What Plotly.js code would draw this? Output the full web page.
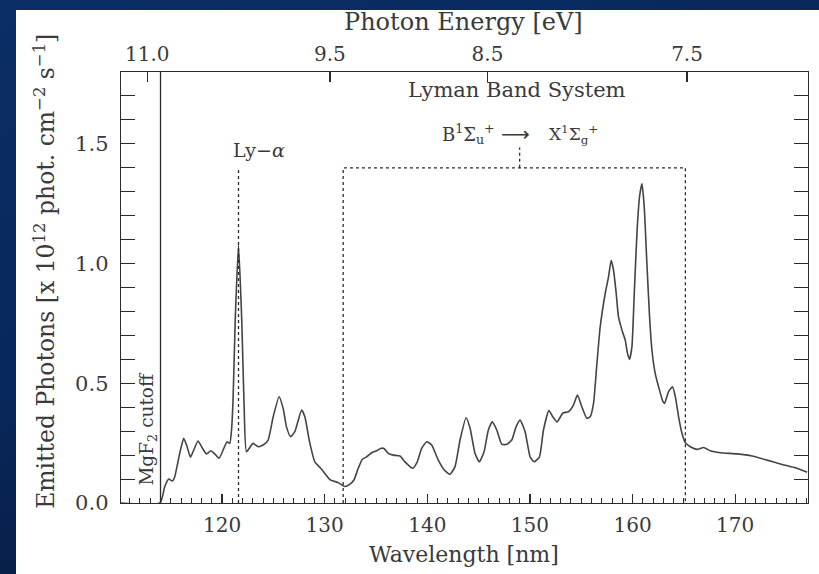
<!DOCTYPE html>
<html>
<head>
<meta charset="utf-8">
<script src="https://cdn.plot.ly/plotly-3.0.1.min.js"></script>
<style>
  html, body { margin: 0; padding: 0; }
  body {
    width: 819px; height: 574px; overflow: hidden; position: relative;
    background: linear-gradient(160deg, #0b2e66 0%, #08275a 45%, #041530 100%);
  }
  #panel { position: absolute; left: 16px; top: 10px; right: 0; bottom: 0; background: #ffffff; }
  #chart { position: absolute; left: 0; top: 0; width: 819px; height: 574px; }
</style>
</head>
<body>
<div id="panel"></div>
<div id="chart"></div>
<script>
// H2 emission spectrum behind a MgF2 window (wavelength in nm, photons in 1e12 phot cm^-2 s^-1)
const wavelength = [
  110.15, 113.95, 114.41, 114.80, 115.16, 115.39, 115.87, 116.26, 116.59, 116.92,
  117.17, 117.66, 118.09, 118.48, 118.90, 119.29, 119.71, 120.17, 120.49, 120.75,
  120.92, 121.07, 121.28, 121.60, 121.92, 122.15, 122.38, 123.02, 123.51, 124.00,
  124.49, 124.98, 125.56, 125.95, 126.28, 126.67, 127.09, 127.75, 128.07, 128.49,
  129.04, 129.70, 130.51, 131.32, 131.97, 132.46, 132.85, 133.27, 133.66, 134.09,
  134.58, 135.06, 135.45, 135.78, 136.20, 136.68, 137.34, 137.82, 138.58, 139.02,
  139.45, 139.94, 140.43, 141.07, 141.66, 142.21, 142.70, 143.19, 143.78, 144.17,
  144.65, 145.07, 145.53, 145.95, 146.34, 146.77, 147.26, 147.75, 148.23, 148.65,
  149.04, 149.53, 150.02, 150.41, 150.93, 151.32, 151.85, 152.23, 152.65, 153.22,
  153.76, 154.24, 154.63, 155.06, 155.55, 155.87, 156.20, 156.53, 156.85, 157.34,
  157.66, 157.92, 158.15, 158.41, 158.63, 158.97, 159.29, 159.51, 159.71, 159.94,
  160.17, 160.43, 160.68, 160.92, 161.14, 161.40, 161.66, 161.89, 162.21, 162.54,
  162.97, 163.12, 163.51, 163.90, 164.17, 164.49, 164.82, 165.14, 165.63, 166.28,
  166.93, 167.58, 168.56, 170.19, 171.65, 173.11, 174.41, 175.71, 177.02
];
const photons = [
  0.000, 0.000, 0.068, 0.100, 0.092, 0.110, 0.207, 0.270, 0.235, 0.191,
  0.214, 0.259, 0.228, 0.205, 0.218, 0.205, 0.187, 0.228, 0.256, 0.249,
  0.305, 0.430, 0.760, 1.077, 0.760, 0.400, 0.214, 0.249, 0.235, 0.242,
  0.263, 0.360, 0.444, 0.395, 0.318, 0.277, 0.298, 0.388, 0.360, 0.263,
  0.172, 0.141, 0.098, 0.085, 0.069, 0.079, 0.096, 0.145, 0.182, 0.193,
  0.210, 0.218, 0.228, 0.228, 0.207, 0.200, 0.196, 0.172, 0.145, 0.172,
  0.228, 0.256, 0.242, 0.179, 0.138, 0.120, 0.152, 0.263, 0.356, 0.312,
  0.207, 0.172, 0.214, 0.305, 0.339, 0.305, 0.245, 0.245, 0.263, 0.318,
  0.346, 0.298, 0.193, 0.172, 0.193, 0.305, 0.386, 0.360, 0.339, 0.376,
  0.381, 0.409, 0.451, 0.402, 0.354, 0.360, 0.416, 0.583, 0.736, 0.875,
  0.944, 1.014, 0.972, 0.875, 0.778, 0.722, 0.680, 0.625, 0.600, 0.652,
  0.875, 1.126, 1.278, 1.334, 1.237, 1.000, 0.778, 0.639, 0.541, 0.485,
  0.423, 0.416, 0.465, 0.485, 0.444, 0.360, 0.291, 0.252, 0.235, 0.224,
  0.232, 0.218, 0.210, 0.205, 0.196, 0.179, 0.163, 0.149, 0.128
];

// secondary (top) axis: photon energy in eV
const energyTicks = [11.0, 9.5, 8.5, 7.5];
const energyLabels = ['11.0', '9.5', '8.5', '7.5'];
const HC_EV_NM = 1239.84;

// marked features
const cutoffNm = 114.0;          // MgF2 window transmission edge
const lyAlphaNm = 121.6;         // Lyman-alpha line
const lyAlphaTop = 1.393;
const lymanBand = [131.8, 165.15];
const lymanBoxTop = 1.40;
const lymanBracketX = 149.0;
const lymanBracketTop = 1.485;

const xRange = [110.15, 177.1];
const yRange = [0, 1.8];

const FONT = 'DejaVu Serif, Liberation Serif, serif';
const INK = '#2a2a2a';
const TXT = '#3a3a3a';

const dashLine = { color: INK, width: 1.3, dash: '3px,3px' };

const traces = [
  {
    x: wavelength, y: photons, type: 'scatter', mode: 'lines',
    line: { color: '#444444', width: 1.6, shape: 'spline', smoothing: 0.5 },
    hoverinfo: 'x+y', showlegend: false
  },
  {
    // carries the energy axis on top
    x: wavelength, y: photons, xaxis: 'x2', yaxis: 'y', type: 'scatter', mode: 'lines',
    line: { width: 0 }, opacity: 0, hoverinfo: 'skip', showlegend: false
  }
];

const layout = {
  width: 819, height: 574,
  margin: { l: 121, r: 11, t: 72, b: 71, pad: 0 },
  paper_bgcolor: 'rgba(0,0,0,0)',
  plot_bgcolor: 'rgba(0,0,0,0)',
  font: { family: FONT, color: TXT, size: 20 },
  showlegend: false,
  xaxis: {
    range: xRange, tick0: 0, dtick: 10,
    ticks: 'inside', ticklen: 9, tickwidth: 1.2, tickcolor: INK,
    minor: { ticks: 'inside', dtick: 1, ticklen: 5, tickwidth: 1, tickcolor: INK },
    showline: true, linecolor: INK, linewidth: 1.3, mirror: true,
    showgrid: false, zeroline: false,
    tickfont: { family: FONT, size: 20, color: TXT },
    ticklabelstandoff: 4
  },
  xaxis2: {
    overlaying: 'x', side: 'top', range: xRange,
    tickmode: 'array',
    tickvals: energyTicks.map(e => HC_EV_NM / e),
    ticktext: energyLabels,
    ticks: 'inside', ticklen: 10, tickwidth: 1.2, tickcolor: INK,
    showline: false, showgrid: false, zeroline: false,
    tickfont: { family: FONT, size: 20, color: TXT },
    ticklabelstandoff: 6
  },
  yaxis: {
    range: yRange, tick0: 0, dtick: 0.5, tickformat: '.1f',
    ticks: 'inside', ticklen: 14, tickwidth: 1.2, tickcolor: INK,
    minor: { ticks: 'inside', dtick: 0.1, ticklen: 7.5, tickwidth: 1, tickcolor: INK },
    showline: true, linecolor: INK, linewidth: 1.3, mirror: 'allticks',
    showgrid: false, zeroline: false,
    tickfont: { family: FONT, size: 21, color: TXT },
    ticklabelstandoff: 7
  },
  shapes: [
    { type: 'line', xref: 'x', yref: 'y', x0: cutoffNm, x1: cutoffNm, y0: yRange[0], y1: yRange[1],
      line: { color: INK, width: 1.3 } },
    { type: 'line', xref: 'x', yref: 'y', x0: lyAlphaNm, x1: lyAlphaNm, y0: 0, y1: lyAlphaTop,
      line: dashLine },
    { type: 'path', xref: 'x', yref: 'y',
      path: `M ${lymanBand[0]},0 L ${lymanBand[0]},${lymanBoxTop} L ${lymanBand[1]},${lymanBoxTop} L ${lymanBand[1]},0`,
      line: dashLine },
    { type: 'line', xref: 'x', yref: 'y', x0: lymanBracketX, x1: lymanBracketX, y0: lymanBoxTop, y1: lymanBracketTop,
      line: dashLine }
  ],
  annotations: [
    { text: 'Photon Energy [eV]', xref: 'paper', yref: 'paper', x: 0.499, y: 1.1153,
      xanchor: 'center', yanchor: 'middle', showarrow: false, font: { family: FONT, size: 24, color: TXT } },
    { text: 'Wavelength [nm]', xref: 'paper', yref: 'paper', x: 0.499, y: -0.1205,
      xanchor: 'center', yanchor: 'middle', showarrow: false, font: { family: FONT, size: 22, color: TXT } },
    { text: 'Emitted Photons [x 10<sup>12</sup> phot. cm<sup>−2</sup> s<sup>−1</sup>]',
      xref: 'paper', yref: 'paper', x: -0.111, y: 0.538, textangle: -90,
      xanchor: 'center', yanchor: 'middle', showarrow: false, font: { family: FONT, size: 23.5, color: TXT } },
    { text: 'Lyman Band System', xref: 'paper', yref: 'paper', x: 0.5758, y: 0.9576,
      xanchor: 'center', yanchor: 'middle', showarrow: false, font: { family: FONT, size: 21, color: TXT } },
    { text: 'B<sup>1</sup>Σ<sub>u</sub><sup>+</sup>', xref: 'paper', yref: 'paper', x: 0.5471, y: 0.8556,
      xanchor: 'right', yanchor: 'middle', showarrow: false, font: { family: FONT, size: 18, color: TXT } },
    { text: '⟶', xref: 'paper', yref: 'paper', x: 0.5748, y: 0.8556,
      xanchor: 'center', yanchor: 'middle', showarrow: false, font: { family: 'DejaVu Sans', size: 20, color: TXT } },
    { text: 'X<sup>1</sup>Σ<sub>g</sub><sup>+</sup>', xref: 'paper', yref: 'paper', x: 0.620, y: 0.8556,
      xanchor: 'left', yanchor: 'middle', showarrow: false, font: { family: FONT, size: 17, color: TXT } },
    { text: 'Ly−<i>α</i>', xref: 'paper', yref: 'paper', x: 0.2005, y: 0.8185,
      xanchor: 'center', yanchor: 'middle', showarrow: false, font: { family: FONT, size: 19, color: TXT } },
    { text: 'MgF<sub>2</sub> cutoff', xref: 'paper', yref: 'paper', x: 0.0389, y: 0.172, textangle: -90,
      xanchor: 'center', yanchor: 'middle', showarrow: false, font: { family: FONT, size: 18.5, color: TXT } }
  ]
};

Plotly.newPlot('chart', traces, layout, { staticPlot: true, displayModeBar: false });
</script>
</body>
</html>
